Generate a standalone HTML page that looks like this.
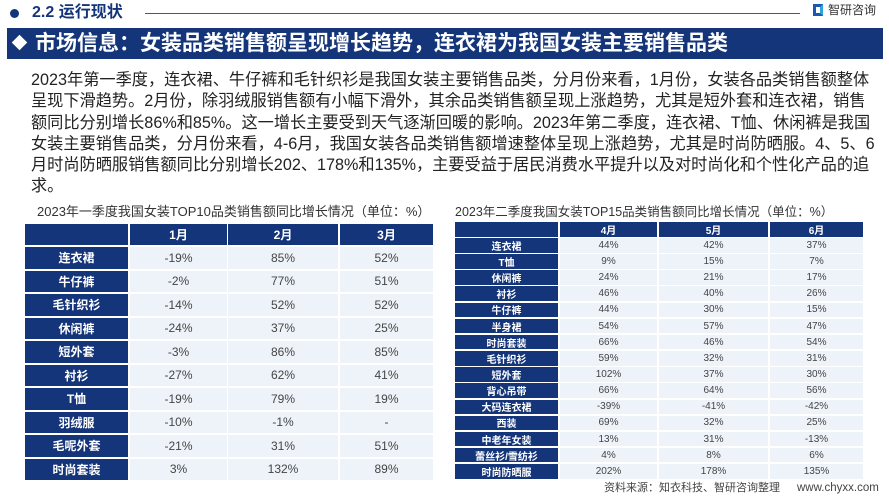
<!DOCTYPE html><html><head><meta charset="utf-8"><style>
*{margin:0;padding:0;box-sizing:border-box}
body{width:889px;height:500px;background:#fff;position:relative;overflow:hidden;font-family:"Liberation Sans","Noto Sans CJK SC",sans-serif;color:#222}
.abs{position:absolute}
.p{position:absolute;left:31px;width:828px;font-size:16.2px;line-height:21.3px;color:#222}
.p div{text-align:justify;text-align-last:justify;white-space:nowrap;height:21.3px}
.p div.l{text-align-last:left}
.cell{position:absolute;display:flex;align-items:center;justify-content:center}
.h{background:#15357a;color:#fff;font-weight:bold}
.d{background:#eef3f9;color:#444}
</style></head><body>
<div class="abs" style="left:10px;top:9px;width:9px;height:9px;border-radius:50%;background:#15357a"></div>
<div class="abs" style="left:32px;top:3px;font-size:16px;font-weight:bold;color:#15357a;line-height:20px">2.2 运行现状</div>
<div class="abs" style="left:145px;top:13px;width:655px;height:1px;background:#555"></div>
<div class="abs" style="left:813px;top:4px;width:10px;height:12px;border:3px solid #1f56b0;border-right-color:#2aa7d8"></div>
<div class="abs" style="left:828px;top:3px;font-size:12px;color:#333;line-height:14px">智研咨询</div>
<div class="abs" style="left:7px;top:28px;width:876px;height:31px;background:#15357a"></div>
<div class="abs" style="left:14px;top:37px;width:11px;height:11px;background:#fff;transform:rotate(45deg)"></div>
<div class="abs" style="left:35px;top:29px;font-size:21px;font-weight:bold;color:#fff;line-height:29px">市场信息：女装品类销售额呈现增长趋势，连衣裙为我国女装主要销售品类</div>
<div class="p" style="top:70px">
<div>2023年第一季度，连衣裙、牛仔裤和毛针织衫是我国女装主要销售品类，分月份来看，1月份，女装各品类销售额整体</div>
<div>呈现下滑趋势。2月份，除羽绒服销售额有小幅下滑外，其余品类销售额呈现上涨趋势，尤其是短外套和连衣裙，销售</div>
<div>额同比分别增长86%和85%。这一增长主要受到天气逐渐回暖的影响。2023年第二季度，连衣裙、T恤、休闲裤是我国</div>
<div>女装主要销售品类，分月份来看，4-6月，我国女装各品类销售额增速整体呈现上涨趋势，尤其是时尚防晒服。4、5、6</div>
<div>月时尚防晒服销售额同比分别增长202、178%和135%，主要受益于居民消费水平提升以及对时尚化和个性化产品的追</div>
<div class="l">求。</div>
</div>
<div class="abs" style="left:37px;top:203px;font-size:13px;color:#333;line-height:18px">2023年一季度我国女装TOP10品类销售额同比增长情况（单位：%）</div>
<div class="abs" style="left:455px;top:203px;font-size:12.5px;color:#333;line-height:18px">2023年二季度我国女装TOP15品类销售额同比增长情况（单位：%）</div>
<div class="abs" style="left:604px;top:481px;font-size:11px;color:#444;line-height:15px">资料来源：知衣科技、智研咨询整理</div>
<div class="abs" style="left:797px;top:481px;font-size:11.5px;color:#444;line-height:15px">www.chyxx.com</div>
<div id="t"></div>
<script>
function tbl(cols,top,hh,rowTop,pitch,rh,fs,hdr,rows){
 var o='';
 hdr.forEach(function(t,i){o+='<div class="cell h" style="left:'+cols[i][0]+'px;width:'+(cols[i][1]-cols[i][0])+'px;top:'+top+'px;height:'+hh+'px;font-size:'+fs+'px">'+t+'</div>';});
 rows.forEach(function(r,j){r.forEach(function(t,i){o+='<div class="cell '+(i?'d':'h')+'" style="left:'+cols[i][0]+'px;width:'+(cols[i][1]-cols[i][0])+'px;top:'+(rowTop+j*pitch)+'px;height:'+rh+'px;font-size:'+fs+'px">'+t+'</div>';});});
 return o;
}
var a=[["连衣裙","-19%","85%","52%"],["牛仔裤","-2%","77%","51%"],["毛针织衫","-14%","52%","52%"],["休闲裤","-24%","37%","25%"],["短外套","-3%","86%","85%"],["衬衫","-27%","62%","41%"],["T恤","-19%","79%","19%"],["羽绒服","-10%","-1%","-"],["毛呢外套","-21%","31%","51%"],["时尚套装","3%","132%","89%"]];
var b=[["连衣裙","44%","42%","37%"],["T恤","9%","15%","7%"],["休闲裤","24%","21%","17%"],["衬衫","46%","40%","26%"],["牛仔裤","44%","30%","15%"],["半身裙","54%","57%","47%"],["时尚套装","66%","46%","54%"],["毛针织衫","59%","32%","31%"],["短外套","102%","37%","30%"],["背心吊带","66%","64%","56%"],["大码连衣裙","-39%","-41%","-42%"],["西装","69%","32%","25%"],["中老年女装","13%","31%","-13%"],["蕾丝衫/雪纺衫","4%","8%","6%"],["时尚防晒服","202%","178%","135%"]];
document.getElementById('t').innerHTML=
 tbl([[25,128],[130,227],[228,338],[340,433]],224,21,247,23.5,21.5,12,["","1月","2月","3月"],a)+
 tbl([[455,558],[560,657],[659,768],[770,863]],222,14.5,238,16.15,14.5,10,["","4月","5月","6月"],b);
</script>
</body></html>
